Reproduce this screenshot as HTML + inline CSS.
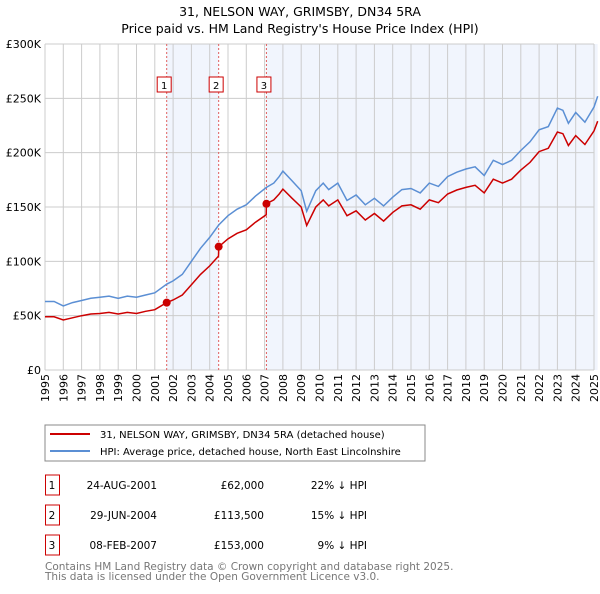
<!DOCTYPE html>
<html><head><meta charset="utf-8"><style>
body{margin:0;background:#fff;width:600px;height:590px;overflow:hidden;font-family:"DejaVu Sans","Liberation Sans",sans-serif;}
svg text{font-family:"DejaVu Sans","Liberation Sans",sans-serif;}
</style></head><body>
<svg id="c" width="600" height="590">
<text x="300" y="16" text-anchor="middle" font-size="12.5">31, NELSON WAY, GRIMSBY, DN34 5RA</text>
<text x="300" y="33" text-anchor="middle" font-size="12.5">Price paid vs. HM Land Registry's House Price Index (HPI)</text>
<g id="plot"></g>
<rect x="45" y="425" width="380" height="36" fill="#fff" stroke="#888"/>
<line x1="50" y1="434" x2="90" y2="434" stroke="#cc0000" stroke-width="2"/>
<text x="100" y="438" font-size="10">31, NELSON WAY, GRIMSBY, DN34 5RA (detached house)</text>
<line x1="50" y1="451" x2="90" y2="451" stroke="#5b8fd4" stroke-width="2"/>
<text x="100" y="455" font-size="10">HPI: Average price, detached house, North East Lincolnshire</text>
<g id="tbl"></g>
<text x="45" y="570" font-size="10.5" fill="#777">Contains HM Land Registry data © Crown copyright and database right 2025.</text>
<text x="45" y="580" font-size="10.5" fill="#777">This data is licensed under the Open Government Licence v3.0.</text>
</svg>
<script>
const hpiT=[1995.0,1995.5,1996.0,1996.5,1997.0,1997.5,1998.0,1998.5,1999.0,1999.5,2000.0,2000.5,2001.0,2001.65,2002.0,2002.5,2003.0,2003.5,2004.0,2004.5,2005.0,2005.5,2006.0,2006.5,2007.1,2007.5,2007.8,2008.0,2008.5,2009.0,2009.3,2009.8,2010.2,2010.5,2011.0,2011.5,2012.0,2012.5,2013.0,2013.5,2014.0,2014.5,2015.0,2015.5,2016.0,2016.5,2017.0,2017.5,2018.0,2018.5,2019.0,2019.5,2020.0,2020.5,2021.0,2021.5,2022.0,2022.5,2023.0,2023.3,2023.6,2024.0,2024.5,2025.0,2025.2];
const hpiV=[63,63,59,62,64,66,67,68,66,68,67,69,71,79,82,88,100,112,122,133.5,142,148,152,160,168,172,178,183,174,165,146,165,172,166,172,156,161,152,158,151,159,166,167,163,172,169,178,182,185,187,179,193,189,193,202,210,221,224,241,239,227,237,228,242,252];
const redT=[1995.0,1995.5,1996.0,1996.5,1997.0,1997.5,1998.0,1998.5,1999.0,1999.5,2000.0,2000.5,2001.0,2001.65,2002.0,2002.5,2003.0,2003.5,2004.0,2004.48,2004.5,2005.0,2005.5,2006.0,2006.5,2007.09,2007.1,2007.5,2007.8,2008.0,2008.5,2009.0,2009.3,2009.8,2010.2,2010.5,2011.0,2011.5,2012.0,2012.5,2013.0,2013.5,2014.0,2014.5,2015.0,2015.5,2016.0,2016.5,2017.0,2017.5,2018.0,2018.5,2019.0,2019.5,2020.0,2020.5,2021.0,2021.5,2022.0,2022.5,2023.0,2023.3,2023.6,2024.0,2024.5,2025.0,2025.2];
const redV=[49,49,46,48,50,51.5,52,53,51.5,53,52,54,55.5,62,64.4,69,78.5,88,95.8,104.8,113.5,120.7,125.8,129,136,142.8,153,156.5,162,166.5,158,150,133,150,156.5,151,156.5,142,146.5,138,144,137,145,151,152,148,156.5,154,162,165.6,168,170,163,175.6,172,175.6,184,191,201,204,219,217.5,206.6,215.7,207.5,220,229];
const saleT=[2001.65,2004.49,2007.1];
const saleV=[62,113.5,153];
const saleLabels=["1","2","3"];
const saleDates=["24-AUG-2001","29-JUN-2004","08-FEB-2007"];
const salePrices=["£62,000","£113,500","£153,000"];
const saleDiff=["22% ↓ HPI","15% ↓ HPI","9% ↓ HPI"];
const yTicks=[0,50,100,150,200,250,300];
const yLabels=["£0","£50K","£100K","£150K","£200K","£250K","£300K"];
const xTicks=[1995,1996,1997,1998,1999,2000,2001,2002,2003,2004,2005,2006,2007,2008,2009,2010,2011,2012,2013,2014,2015,2016,2017,2018,2019,2020,2021,2022,2023,2024,2025];

const X0=45,X1=594,Y0=370,Y1=44;
const xs=t=>X0+(t-1995)/30*(X1-X0);
const ys=v=>Y0-v/300*(Y0-Y1);
const NS="http://www.w3.org/2000/svg";
const g=document.getElementById('plot');
function mk(tag,a,p){const e=document.createElementNS(NS,tag);for(const k in a)e.setAttribute(k,a[k]);(p||g).appendChild(e);return e;}
[[saleT[0],saleT[1]],[saleT[2],2025.2]].forEach(s=>{
 const r=mk('rect',{x:xs(s[0]),y:Y1,width:xs(s[1])-xs(s[0]),height:Y0-Y1,fill:'#eef3fc',opacity:0.8});
 
 
});
xTicks.forEach(t=>{
 const l=mk('line',{x1:xs(t),x2:xs(t),y1:Y1,y2:Y0,stroke:'#cccccc','stroke-width':1});
 
 
 const x=xs(t)+4;
 const tx=mk('text',{x:x,y:374,'font-size':11,'text-anchor':'end',transform:'rotate(-90 '+x+' 374)'});tx.textContent=t;
 
 
});
yTicks.forEach((v,i)=>{
 const l=mk('line',{x1:X0,x2:X1,y1:ys(v),y2:ys(v),stroke:'#cccccc','stroke-width':1});
 
 
 const tx=mk('text',{x:41,y:ys(v)+4,'font-size':11,'text-anchor':'end'});tx.textContent=yLabels[i];
 
 
});
saleT.forEach((t,i)=>{
 const l=mk('line',{x1:xs(t),x2:xs(t),y1:Y1,y2:Y0,stroke:'#e06060','stroke-dasharray':'2,2','stroke-width':1});
 
 
 const b=mk('rect',{x:xs(t)-9.5,y:77,width:14,height:15,fill:'#fff',stroke:'#cc0000'});
 
 
 const tx=mk('text',{x:xs(t)-2.5,y:89,'font-size':10,'text-anchor':'middle'});tx.textContent=saleLabels[i];
 
 
});
const path=(T,V)=>T.map((t,i)=>(i?'L':'M')+xs(t).toFixed(1)+','+ys(V[i]).toFixed(1)).join('');
const hp=mk('path',{d:path(hpiT,hpiV),fill:'none',stroke:'#5b8fd4','stroke-width':1.5});


const rp=mk('path',{d:path(redT,redV),fill:'none',stroke:'#cc0000','stroke-width':1.5});


saleT.forEach((t,i)=>{
 const c=mk('circle',{cx:xs(t),cy:ys(saleV[i]),r:4,fill:'#cc0000'});
 
 
});
const tb=document.getElementById('tbl');
saleT.forEach((t,i)=>{
 const y=485+i*30;
 const b=mk('rect',{x:45.5,y:y-10,width:14,height:20,fill:'none',stroke:'#cc0000'},tb);
 
 
 const cells=[[52,'middle',saleLabels[i]],[157,'end',saleDates[i]],[264,'end',salePrices[i]],[367,'end',saleDiff[i]]];
 cells.forEach(c=>{const tx=mk('text',{x:c[0],y:y+4,'font-size':10.5,'text-anchor':c[1]},tb);tx.textContent=c[2];
  
  
 });
});
</script>
</body></html>
